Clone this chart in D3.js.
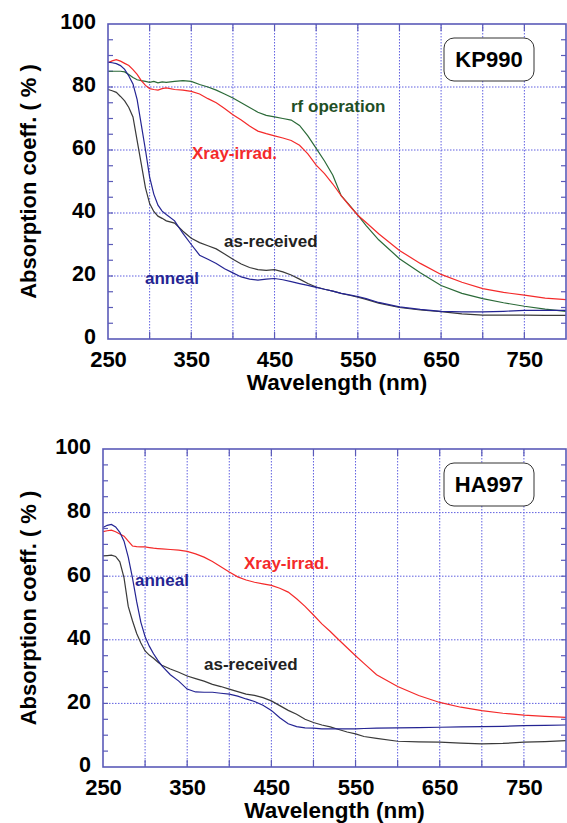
<!DOCTYPE html>
<html>
<head>
<meta charset="utf-8">
<script src="https://cdn.jsdelivr.net/npm/d3@7"></script>
<style>
  body { margin: 0; background: #fff; }
  text { font-family: "Liberation Sans", Arial, Helvetica, sans-serif; font-weight: bold; }
</style>
</head>
<body>
<svg width="567" height="823"></svg>
<script>
document.addEventListener("DOMContentLoaded", function() {

    // wavelength grid (nm) shared by all curves
    var wl = [250,255,260,265,270,275,280,285,290,295,300,305,310,315,320,330,340,350,360,370,380,390,
              400,410,420,430,440,450,460,470,480,490,500,510,520,530,540,550,560,575,600,625,650,675,
              700,725,750,775,800];

    // KP990 panel
    var kpRf = [85,85,85,85,84.8,84,83,82.3,82,81.8,81.5,81.8,81.3,81.6,81.5,81.8,82,81.8,80.8,80,79,77.8,
                76.5,75,73.5,72,71,70.5,70,69.5,67.8,64.5,60.5,56.5,52,45.5,42.5,39.3,36,31.5,25.5,21,17,14.5,
                12.8,11.5,10.4,9.5,8.8];
    var kpXray = [87.7,88.3,88.7,88.2,87.5,86.8,85.5,84,82,80.5,79.5,79.2,79,79.5,79.7,79.2,79,78.6,77.8,76.3,75,73.2,
                  71.2,69.5,67.6,66,65.2,64.5,63.8,63,61.5,58.8,55.2,52.5,49.2,45.5,42.3,39.3,37,33.4,28.1,24,20.5,18,
                  16,14.8,13.9,13,12.5];
    var kpAnneal = [87.9,87.7,87.4,86.8,85.6,83.5,81,76,68,60,51.4,46,42.5,40.6,39.5,37.5,33.5,30,26.6,25.3,24,22.3,
                    21,19.7,19,18.7,19,19.2,18.8,18.2,17.6,17,16.4,15.8,15.2,14.5,14,13.5,12.8,11.6,10.2,9.4,8.8,8.6,
                    8.6,8.8,9.1,9.1,9.1];
    var kpAsRec = [79.2,78.8,78.3,77,75.6,73.5,70.5,63,55.5,48,43,40.5,39,38.3,37.5,36.8,34.2,32,30.6,29.6,28.6,27,
                   25.3,23.8,22.7,22,21.8,22,21.3,20.3,19,17.6,16.5,15.8,15.2,14.5,13.9,13.3,12.6,11.4,10,9.2,8.7,8,
                   7.6,7.6,7.6,7.5,7.5];

    // HA997 panel
    var haXray = [74,74.3,74.5,74,73.3,72.6,71,69.5,69.3,69.2,69.2,69,68.8,68.7,68.6,68.4,68.2,67.8,67,66,64.6,63,
                  61.3,59.8,58.8,58.1,57.6,57.1,56.2,55,52.9,50.5,47.8,45,42.6,40,37.5,35,32.6,29,25.3,22.5,20.3,18.8,
                  17.7,16.9,16.3,15.9,15.6];
    var haAnneal = [75.3,76,76.3,75.5,73.8,71,66,59.5,52,45.5,41,38,35.6,33.6,31.8,29,27,24.5,23.6,23.5,23.5,23.2,
                    22.9,22.3,21.4,20.6,19.4,17.8,15.5,13.6,12.7,12.3,12.2,12,12,12,12,12,12.1,12.2,12.3,12.4,12.5,12.6,
                    12.7,12.8,13,13.1,13.2];
    var haAsRec = [66.4,66.5,66.6,66.2,64.5,59.5,50.5,46,42,39,36.5,35.2,34.2,33,32,30.8,29.8,28.6,27.8,27,26,25.3,
                   24.5,23.7,22.9,22.5,21.8,20.8,19.3,17.8,16.6,15,14,13.2,12.6,11.8,11,10.4,9.6,9,8.1,7.9,7.8,7.5,
                   7.3,7.4,7.8,8,8.3];

    var xTicks = [250, 350, 450, 550, 650, 750];
    var yTicks = [0, 20, 40, 60, 80, 100];

    var colors = {
        rf: "#2b6a38",
        xray: "#f42a2a",
        anneal: "#242493",
        asrec: "#3a3a3a"
    };
    var frameColor = "#5a5ab8";
    var gridColor = "#5f5fe0";

    var svg = d3.select("svg");

    function styleLabels(sel, size) {
        sel.selectAll("text").attr("font-size", size).attr("fill", "#000")
            .style("font-family", "'Liberation Sans', Arial, sans-serif").style("font-weight", "bold");
    }

    function drawPanel(p) {
        var x = d3.scaleLinear().domain([250, 800]).range([p.left, 566]);
        var y = d3.scaleLinear().domain([0, 100]).range([p.bottom, p.top]);
        var g = svg.append("g");

        // dotted grid
        g.selectAll(".vg").data(d3.range(300, 800, 50)).enter().append("line")
            .attr("x1", d => x(d)).attr("x2", d => x(d))
            .attr("y1", p.top).attr("y2", p.bottom)
            .attr("stroke", gridColor).attr("stroke-width", 1).attr("stroke-dasharray", "1.5,1.5");
        g.selectAll(".hg").data([20, 40, 60, 80]).enter().append("line")
            .attr("x1", p.left).attr("x2", 566)
            .attr("y1", d => y(d)).attr("y2", d => y(d))
            .attr("stroke", gridColor).attr("stroke-width", 1).attr("stroke-dasharray", "1.5,1.5");

        // solid tick stubs at grid ends
        var xt = d3.range(300, 800, 50);
        [p.top, p.bottom].forEach(function(edge, i) {
            g.selectAll(null).data(xt).enter().append("line")
                .attr("x1", d => x(d)).attr("x2", d => x(d))
                .attr("y1", edge).attr("y2", i === 0 ? edge + 7 : edge - 7)
                .attr("stroke", frameColor).attr("stroke-width", 1.2);
        });
        var yt = d3.range(5, 100, 5);
        [p.left, 566].forEach(function(edge, i) {
            g.selectAll(null).data(yt).enter().append("line")
                .attr("x1", edge).attr("x2", i === 0 ? edge + 5 : edge - 5)
                .attr("y1", d => y(d)).attr("y2", d => y(d))
                .attr("stroke", frameColor).attr("stroke-width", 1.2);
        });

        // curves
        var line = d3.line().x((d, i) => x(wl[i])).y(d => y(d));
        p.series.forEach(function(s) {
            g.append("path").datum(s.values)
                .attr("d", line)
                .attr("fill", "none")
                .attr("stroke", s.color)
                .attr("stroke-width", 1.2);
        });

        // frame
        g.append("rect")
            .attr("x", p.left).attr("y", p.top)
            .attr("width", 566 - p.left).attr("height", p.bottom - p.top)
            .attr("fill", "none").attr("stroke", frameColor).attr("stroke-width", 1.6);

        // tick labels
        var ax = g.append("g").attr("transform", `translate(0,${p.bottom})`)
            .call(d3.axisBottom(x).tickValues(xTicks).tickSize(0).tickPadding(12));
        ax.select(".domain").remove();
        styleLabels(ax, 22);

        var ay = g.append("g").attr("transform", `translate(${p.left},-2)`)
            .call(d3.axisLeft(y).tickValues(yTicks).tickSize(0).tickPadding(12));
        ay.select(".domain").remove();
        styleLabels(ay, 21.5);

        // axis titles
        g.append("text")
            .attr("x", (p.left + 566) / 2).attr("y", p.bottom + 51)
            .attr("text-anchor", "middle").attr("font-size", 22.5)
            .text("Wavelength (nm)");
        g.append("text")
            .attr("transform", `translate(36,${(p.top + p.bottom) / 2}) rotate(-90)`)
            .attr("text-anchor", "middle").attr("font-size", 22)
            .text("Absorption coeff. ( % )");

        // sample name box
        g.append("rect")
            .attr("x", 444).attr("y", p.top + 14)
            .attr("width", 90).attr("height", 43).attr("rx", 10)
            .attr("fill", "#fff").attr("stroke", "#333").attr("stroke-width", 1);
        g.append("text")
            .attr("x", 489).attr("y", p.top + 43)
            .attr("text-anchor", "middle").attr("font-size", 22)
            .text(p.name);

        // curve labels
        p.labels.forEach(function(l) {
            g.append("text")
                .attr("x", l.x).attr("y", l.y)
                .attr("font-size", 17).attr("fill", l.color)
                .text(l.text);
        });
    }

    drawPanel({
        name: "KP990", left: 108, top: 24, bottom: 339,
        series: [
            { values: kpRf, color: colors.rf },
            { values: kpXray, color: colors.xray },
            { values: kpAsRec, color: colors.asrec },
            { values: kpAnneal, color: colors.anneal }
        ],
        labels: [
            { text: "rf operation", x: 291, y: 112, color: "#1f4f26" },
            { text: "Xray-irrad.", x: 192, y: 159, color: colors.xray },
            { text: "as-received", x: 224, y: 247, color: "#222" },
            { text: "anneal", x: 145, y: 284, color: colors.anneal }
        ]
    });

    drawPanel({
        name: "HA997", left: 103, top: 449, bottom: 767,
        series: [
            { values: haXray, color: colors.xray },
            { values: haAsRec, color: colors.asrec },
            { values: haAnneal, color: colors.anneal }
        ],
        labels: [
            { text: "Xray-irrad.", x: 244, y: 569, color: colors.xray },
            { text: "anneal", x: 135, y: 586, color: colors.anneal },
            { text: "as-received", x: 204, y: 670, color: "#222" }
        ]
    });
});
</script>
</body>
</html>
